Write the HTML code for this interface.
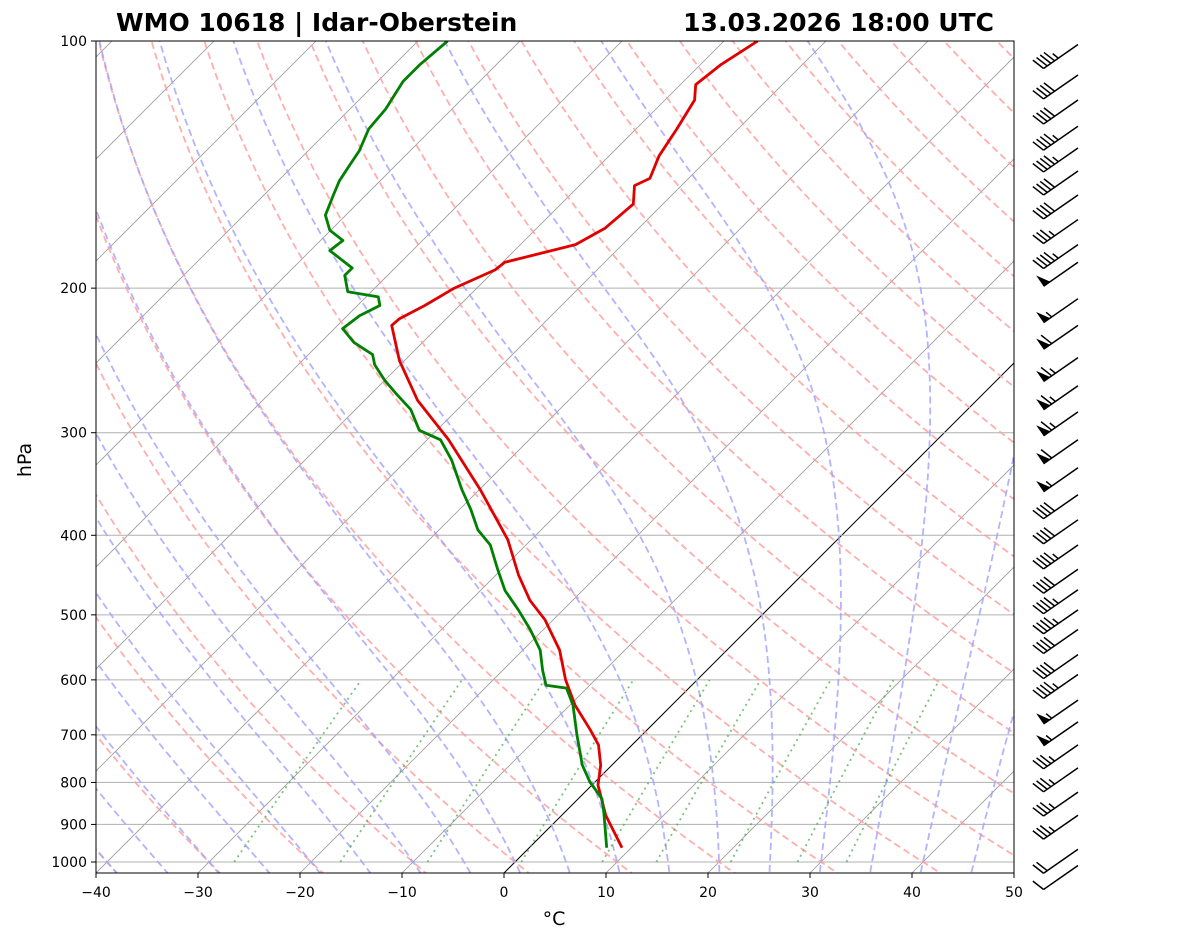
<!DOCTYPE html>
<html><head><meta charset="utf-8">
<style>
html,body{margin:0;padding:0;background:#fff;}
svg{display:block;font-family:"DejaVu Sans","Liberation Sans",sans-serif;}
</style></head>
<body>
<svg id="chart" width="1181" height="941" viewBox="0 0 1181 941" xmlns="http://www.w3.org/2000/svg">
<defs><clipPath id="plotclip"><rect x="96" y="41" width="918" height="832"/></clipPath></defs>
<text x="116" y="31" font-size="25" font-weight="bold">WMO 10618 | Idar-Oberstein</text>
<text x="994" y="31" font-size="25" font-weight="bold" text-anchor="end">13.03.2026 18:00 UTC</text>
<text x="0" y="0" font-size="19" text-anchor="middle" transform="translate(31,460) rotate(-90)">hPa</text>
<text x="554" y="925" font-size="19" text-anchor="middle">°C</text>
<g id="bg" clip-path="url(#plotclip)"></g>
<g id="profiles" clip-path="url(#plotclip)"></g>
<rect x="96" y="41" width="918" height="832" fill="none" stroke="#000" stroke-width="1"/>
<g id="ticks"></g>
<g id="barbs"></g>
</svg>
<script>
// ---- data ----
const tempP = [961,877,806,762,720,690,644,600,552,507,480,447,405,352,306,274,245,222,218,210,200,190,186,177,169,158,150,147,138,128,118,113,107,100];
const tempC = [9.1,4.3,0.6,-1.1,-3.3,-5.6,-9.5,-12.9,-16.4,-20.8,-24.2,-27.8,-32.3,-39.9,-47.9,-54.8,-60.5,-64.7,-64.6,-63.4,-62.2,-60,-59.8,-54.6,-53.3,-52.9,-54.6,-53.8,-55.1,-56,-57.1,-58.5,-58,-56.7];
const dewP = [961,869,837,799,762,700,644,614,609,584,552,521,493,467,441,411,394,372,352,324,306,298,281,270,259,248,241,233,224,216,210,205,202,193,189,180,175,170,163,154,148,142,136,128,121,112,107,100];
const dewC = [7.6,3.8,2.3,-0.5,-2.9,-6.4,-9.7,-12,-14.3,-16.1,-18.3,-21.3,-24.4,-27.6,-30.3,-33.5,-36.2,-38.9,-41.7,-45.6,-48.7,-51.7,-54.6,-57.3,-60,-62.5,-63.7,-66.7,-69.2,-68.8,-67.8,-68.8,-72.3,-74.2,-74.2,-78.1,-77.8,-80.1,-82,-83.2,-84,-84.5,-85,-86.2,-86.5,-87.5,-87.5,-87.1];
const windP = [101,110,118,127,135,144,154,165,177,186,206,222,243,263,283,306,331,357,383,411,440,466,493,521,559,591,635,675,720,768,822,877,965,1010];
const windKt = [45,40,40,45,45,40,40,35,45,50,55,60,65,65,65,60,55,40,40,45,40,45,45,40,40,45,55,55,35,35,35,35,20,10];
const pressTicks = [100,200,300,400,500,600,700,800,900,1000];
const tempTicks = [-40,-30,-20,-10,0,10,20,30,40,50];
const mixRatios = [0.0004,0.001,0.002,0.004,0.007,0.01,0.016,0.024,0.032];

// ---- axes ----
const X0=96, X1=1014, YT=41, YB=873, PXPERDEC=821, PXPERC=10.2;
function yOf(p){ return YT + (Math.log10(p)-2)*PXPERDEC; }
function xOf(t,p){ const y=yOf(p); return X0 + (t+40)*PXPERC + (YB - y); }
const NS='http://www.w3.org/2000/svg';
function mk(tag,attrs,parent){ const e=document.createElementNS(NS,tag); for(const k in attrs) e.setAttribute(k,attrs[k]); parent.appendChild(e); return e; }
const bg=document.getElementById('bg'), prof=document.getElementById('profiles'), tk=document.getElementById('ticks'), bb=document.getElementById('barbs');
function pathFrom(ps,ts){ let d=''; for(let i=0;i<ps.length;i++){ d+=(i?'L':'M')+xOf(ts[i],ps[i]).toFixed(1)+','+yOf(ps[i]).toFixed(1);} return d; }
const pLevels=[]; for(let p=1060;p>=95;p-=5) pLevels.push(p);

for(let t=-130;t<=50;t+=10){
  const l=mk('line',{x1:xOf(t,1060),y1:yOf(1060),x2:xOf(t,90),y2:yOf(90),stroke:t===0?'#000':'#999','stroke-width':t===0?1:0.8},bg);
  
  
}
pressTicks.forEach(p=>{
  const l=mk('line',{x1:X0,x2:X1,y1:yOf(p),y2:yOf(p),stroke:'#b0b0b0','stroke-width':1},bg);
  
  
});
for(let th=-40;th<=200;th+=10){
  const T0=th+273.15; const ts=pLevels.map(p=>T0*Math.pow(p/1000,0.2857)-273.15);
  const e=mk('path',{d:pathFrom(pLevels,ts),fill:'none',stroke:'#ff9a9a','stroke-width':1.8,'stroke-dasharray':'7,4',opacity:0.8},bg);
  
  
}
function es(tc){ return 6.112*Math.exp(17.67*tc/(tc+243.5)); }
function dTdp(T,p){ const Rd=287.04,Cp=1005.7,Lv=2.501e6,eps=0.622; const e=es(T-273.15); const rs=eps*e/(p-e); return (Rd*T+Lv*rs)/(p*(Cp+Lv*Lv*rs*eps/(Rd*T*T))); }
for(let t0=-40;t0<=45;t0+=5){
  const ps=[],ts=[];
  let Tb=t0+273.15; for(let pp=1000;pp<1060;pp+=1){ Tb+=dTdp(Tb,pp); }
  let T=Tb;
  for(let p=1060;p>=100;p-=1){ if(p%5===0){ps.push(p);ts.push(T-273.15);} T-=dTdp(T,p); }
  const e=mk('path',{d:pathFrom(ps,ts),fill:'none',stroke:'#a0a0ff','stroke-width':1.8,'stroke-dasharray':'7,4',opacity:0.8},bg);
  
  
}
mixRatios.forEach(w=>{
  const ps=[],ts=[];
  for(let p=1000;p>=600;p-=10){ const e=w*p/(0.622+w); const a=Math.log(e/6.112); ps.push(p); ts.push(243.5*a/(17.67-a)); }
  const e=mk('path',{d:pathFrom(ps,ts),fill:'none',stroke:'#4caf4c','stroke-width':1.8,'stroke-dasharray':'2,4',opacity:0.75},bg);
  
  
});
const tl=mk('path',{d:pathFrom(tempP,tempC),fill:'none',stroke:'#e00000','stroke-width':2.8,'stroke-linejoin':'round'},prof);


const dl=mk('path',{d:pathFrom(dewP,dewC),fill:'none',stroke:'#008000','stroke-width':2.8,'stroke-linejoin':'round'},prof);



pressTicks.forEach(p=>{
  const y=yOf(p);
  const l=mk('line',{x1:X0-5,x2:X0,y1:y,y2:y,stroke:'#000'},tk);
  
  
  const t=mk('text',{x:X0-9,y:y+5,'font-size':14,'text-anchor':'end'},tk); t.textContent=p;
  
  
});
tempTicks.forEach(c=>{
  const x=X0+(c+40)*PXPERC;
  const l=mk('line',{x1:x,x2:x,y1:YB,y2:YB+5,stroke:'#000'},tk);
  
  
  const t=mk('text',{x:x,y:YB+24,'font-size':14,'text-anchor':'middle'},tk); t.textContent=(c<0?'\u2212'+(-c):c);
  
  
});

const ux=-0.82, uy=0.57, nx=-0.57, ny=-0.82, STAFF=42;
windP.forEach((p,i)=>{
  const g=mk('g',{},bb);
  
  
  const bx=1078, by=yOf(p);
  const tx=bx+ux*STAFF, ty=by+uy*STAFF;
  mk('line',{x1:bx,y1:by,x2:tx,y2:ty,stroke:'#000','stroke-width':1.5},g);
  let s=Math.round(windKt[i]/5)*5; let d=0;
  while(s>=50){ const ax=tx-ux*d, ay=ty-uy*d, cx=tx-ux*(d+8), cy=ty-uy*(d+8);
    mk('polygon',{points:`${ax},${ay} ${cx},${cy} ${ax+nx*13},${ay+ny*13}`,fill:'#000'},g); d+=10; s-=50; }
  while(s>=10){ const ax=tx-ux*d, ay=ty-uy*d; mk('line',{x1:ax,y1:ay,x2:ax+nx*13+ux*4,y2:ay+ny*13+uy*4,stroke:'#000','stroke-width':1.5},g); d+=4.5; s-=10; }
  if(s>=5){ if(d===0) d=4.5; const ax=tx-ux*d, ay=ty-uy*d; mk('line',{x1:ax,y1:ay,x2:ax+nx*7+ux*2,y2:ay+ny*7+uy*2,stroke:'#000','stroke-width':1.5},g); }
});
</script>
</body></html>
